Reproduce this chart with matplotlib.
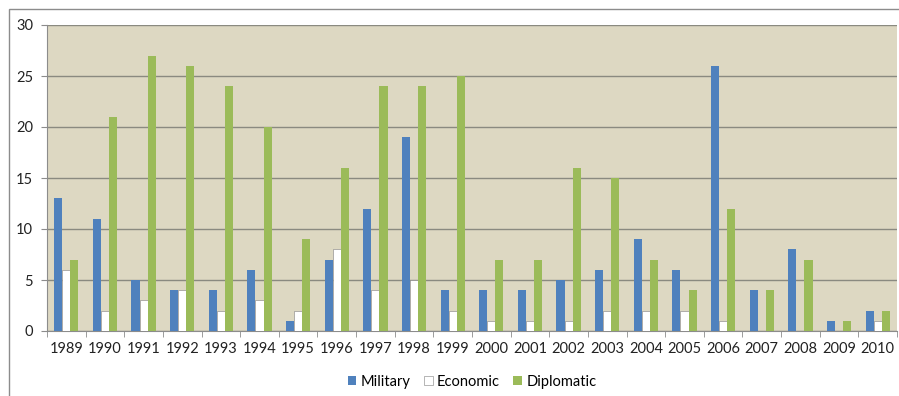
import matplotlib.pyplot as plt
from matplotlib.patches import Rectangle
import numpy as np

years = ["1989", "1990", "1991", "1992", "1993", "1994", "1995", "1996", "1997", "1998", "1999",
         "2000", "2001", "2002", "2003", "2004", "2005", "2006", "2007", "2008", "2009", "2010"]
military = [13, 11, 5, 4, 4, 6, 1, 7, 12, 19, 4, 4, 4, 5, 6, 9, 6, 26, 4, 8, 1, 2]
economic = [6, 2, 3, 4, 2, 3, 2, 8, 4, 5, 2, 1, 1, 1, 2, 2, 2, 1, 0, 0, 0, 1]
diplomatic = [7, 21, 27, 26, 24, 20, 9, 16, 24, 24, 25, 7, 7, 16, 15, 7, 4, 12, 4, 7, 1, 2]

plt.rcParams['font.family'] = ['Lato', 'DejaVu Sans']

fig = plt.figure(figsize=(8.99, 3.96), dpi=100)
# outer chart frame
fig.patches.append(Rectangle((9 / 899, -0.01), 1.0, 1 - 9 / 396 + 0.01, transform=fig.transFigure,
                             fill=False, edgecolor='#8c8c8c', linewidth=1.0))
ax = fig.add_axes([47 / 899, 1 - 331 / 396, 850 / 899, 306 / 396])
ax.set_facecolor('#ddd8c2')

x = np.arange(len(years))
w = 0.21
ax.bar(x - w, military, width=w, color='#4f81bd', label='Military', zorder=3)
ax.bar(x, economic, width=w, color='white', edgecolor='#7f7f7f', linewidth=0.4,
       label='Economic', zorder=3)
ax.bar(x + w, diplomatic, width=w, color='#9bbb59', label='Diplomatic', zorder=3)

ax.set_xlim(-0.5, len(years) - 0.5)
ax.set_ylim(0, 30)
ax.set_yticks(range(0, 31, 5))
ax.yaxis.grid(True, color='#8a8a80', linewidth=1.0, zorder=1)

ax.set_xticks(x)
ax.set_xticklabels(years)
ax.set_xticks(np.arange(-0.5, len(years), 1), minor=True)
ax.tick_params(axis='x', which='major', length=0, pad=8, labelsize=10.5, colors='#222222')
ax.tick_params(axis='x', which='minor', length=4, color='#8c8c8c', direction='out')
ax.tick_params(axis='y', length=4, color='#8c8c8c', pad=6, labelsize=10.5, colors='#222222')

for side in ['top', 'right']:
    ax.spines[side].set_visible(False)
ax.spines['left'].set_color('#8c8c8c')
ax.spines['bottom'].set_color('#8c8c8c')

ax.legend(loc='upper center', bbox_to_anchor=(0.5, -0.1), ncol=3, frameon=False,
          fontsize=10.5, handlelength=0.6, handleheight=0.6, handletextpad=0.3,
          columnspacing=0.9)

fig.savefig('out.png', dpi=100)
